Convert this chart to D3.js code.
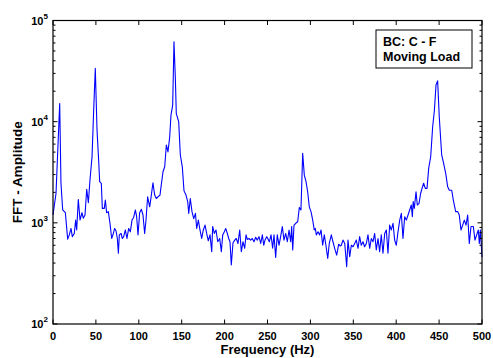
<!DOCTYPE html>
<html><head><meta charset="utf-8">
<script src="https://cdn.jsdelivr.net/npm/d3@7"></script>
<style>body{margin:0;background:#fff}svg{display:block}text{font-family:"Liberation Sans",Arial,sans-serif;font-weight:bold}</style>
</head><body><svg id="c" width="493" height="358"></svg>
<script>
const freq = [0,3.5,7.8,9.3,11.3,14.4,17.1,19,21,22.5,24.8,26.4,27.6,29.5,31.5,33.8,35.3,37.3,39.3,41.2,43.1,45.5,47.4,49.3,51.3,53.2,54.4,56.3,57.5,59.8,61,62.5,64.5,66.4,68.4,70.3,71.9,73.4,75,76.2,77.3,79.3,80.8,82.4,84.3,86.2,88.2,90.1,92.1,94,96,97.5,99.1,101,103,104.9,106.8,108.4,110.3,112.7,114.6,116.5,118.5,120.4,122.4,124.7,126.2,128.2,130.2,132.1,134,136,137.5,139.5,141,142.6,143.7,146.5,148.4,150.7,152.7,155,157,158.2,160,162,164,166,167.5,169.4,171.3,173.3,175.2,177.2,179.1,181,183,185,186.1,188,190,192,194.3,196.2,197.8,199.7,201.3,203.2,204.8,206.3,207.8,209.8,211.8,213.6,215.6,217.6,219.5,221.4,223.4,225,226.5,228.4,230.4,232.3,234.3,236.2,238.1,240.1,242.1,244,245.6,247.1,249.1,250.3,252.1,254.1,256,257.6,259.5,261.4,263.4,265.3,267.3,269.2,271.2,273.1,275.1,277,278.2,279.4,280.9,282.9,285.2,287.1,289,291,292.9,294.9,296.8,298.7,300.7,302.7,304.5,305.7,306.9,308.9,310.8,312.4,314.3,316.2,318.2,320.2,322,324.4,326.3,328.3,330.6,333,334.9,336,338,340,342.3,343.8,345.8,347.7,349.7,351.6,353.5,355.5,357.4,359.3,361.3,363.2,365.2,367.1,369.1,371,373,374.9,376.8,378.8,380.7,382.6,384.6,386.6,388.5,390.4,392.4,394.3,396.3,398.2,400.1,402.1,404.1,406,407.9,409.9,411.8,413.8,415.7,417.6,418.8,419.8,421.1,423.1,424.6,426.6,428.5,430.1,432,433.9,435.9,437.9,440.2,442.5,444.5,446.4,448.3,450.2,453,454.9,457.7,460,461.9,464.7,466.6,469.3,471.7,473.5,475.5,477.5,479.4,481.4,483.3,485.2,487.2,489.9,491.8,493.8,495.7,496.9,498.1,500];
const amplitude = [1200,1950,15100,2460,1340,1260,690,760,880,730,785,1065,850,1700,1065,1260,1110,1195,2150,1580,2650,4500,12900,33600,8300,4150,2550,2460,1390,1390,1680,1260,1290,990,700,785,880,835,700,500,760,785,700,730,850,700,880,815,1065,1130,1340,1150,760,1260,1360,1195,785,1065,1810,1440,1880,2490,1880,1740,1810,1880,2370,3200,3580,5880,5030,7060,11600,14600,61700,26800,12000,10000,4680,3580,2070,1880,1620,1240,1740,1290,1100,1240,880,1065,850,700,850,950,785,665,760,518,920,785,850,650,700,518,760,815,880,785,700,650,383,635,675,700,625,850,518,650,560,760,685,700,675,700,650,720,675,730,625,760,600,675,730,700,650,760,560,760,455,760,600,730,920,675,785,650,850,650,920,540,950,990,1025,1420,1340,4870,2960,2550,2030,1440,1290,1065,850,880,760,815,760,850,600,760,590,445,625,760,650,560,480,615,590,600,675,625,368,675,462,600,580,625,675,560,730,600,650,580,625,760,560,700,650,785,540,700,518,760,500,785,850,500,950,850,990,675,600,815,1065,1240,700,1150,1065,1195,1340,1500,1150,1620,1390,2030,1500,1560,1950,2190,2460,2190,2190,3470,4500,8900,12900,23000,25300,11100,4700,4000,3080,2270,2100,2100,1680,1290,1290,1195,850,950,1065,950,1195,625,920,920,675,760,850,625,850,460];
const xTicks = [0,50,100,150,200,250,300,350,400,450,500];
const yExponents = [2,3,4,5];
const legendLines = ["BC: C - F","Moving Load"];
const xTitle = "Frequency (Hz)";
const yTitle = "FFT - Amplitude";

const L=53,R=482,T=20.5,B=324;
const svg=d3.select("#c");
const x=d3.scaleLinear().domain([0,500]).range([L,R]);
const y=d3.scaleLog().domain([100,1e5]).range([B,T]);

// minor log ticks
const minor=[];
for(let e=2;e<5;e++)for(let m=2;m<=9;m++)minor.push(m*Math.pow(10,e));
const g=svg.append("g");
// data line
svg.append("path").datum(freq.map((f,i)=>[f,amplitude[i]]))
  .attr("fill","none").attr("stroke","#0000ff").attr("stroke-width",1.1)
  .attr("stroke-linejoin","round")
  .attr("d",d3.line().x(d=>x(d[0])).y(d=>y(d[1])));

const ax=svg.append("g").attr("stroke","#000").attr("stroke-width",1);
// x ticks bottom & top
xTicks.forEach(t=>{
  ax.append("line").attr("x1",x(t)).attr("x2",x(t)).attr("y1",B).attr("y2",B-4.5);
  ax.append("line").attr("x1",x(t)).attr("x2",x(t)).attr("y1",T).attr("y2",T+4.5);
});
yExponents.forEach(e=>{
  const v=Math.pow(10,e);
  ax.append("line").attr("x1",L).attr("x2",L+4.5).attr("y1",y(v)).attr("y2",y(v));
  ax.append("line").attr("x1",R).attr("x2",R-4.5).attr("y1",y(v)).attr("y2",y(v));
});
minor.forEach(v=>{
  ax.append("line").attr("x1",L).attr("x2",L+2.5).attr("y1",y(v)).attr("y2",y(v));
  ax.append("line").attr("x1",R).attr("x2",R-2.5).attr("y1",y(v)).attr("y2",y(v));
});
svg.append("rect").attr("x",L).attr("y",T).attr("width",R-L).attr("height",B-T)
  .attr("fill","none").attr("stroke","#000").attr("stroke-width",1.2);

// x tick labels
svg.append("g").selectAll("text").data(xTicks).join("text")
  .attr("x",d=>x(d)).attr("y",340).attr("text-anchor","middle")
  .attr("font-size",11).text(d=>d);
// y tick labels
yExponents.forEach(e=>{
  const t=svg.append("text").attr("x",43.5).attr("y",y(Math.pow(10,e))+4).attr("text-anchor","end").attr("font-size",11).text("10");
  svg.append("text").attr("x",43.5).attr("y",y(Math.pow(10,e))-2).attr("font-size",8).text(e);
});
// titles
svg.append("text").attr("x",(L+R)/2).attr("y",353.5).attr("text-anchor","middle").attr("font-size",13).text(xTitle);
svg.append("text").attr("transform",`translate(22,${(T+B)/2}) rotate(-90)`).attr("text-anchor","middle").attr("font-size",13.5).text(yTitle);

// legend
svg.append("rect").attr("x",376).attr("y",30).attr("width",96).attr("height",38)
  .attr("fill","#fff").attr("stroke","#000").attr("stroke-width",1);
legendLines.forEach((s,i)=>{
  svg.append("text").attr("x",383).attr("y",46+i*15).attr("font-size",12.5).text(s);
});
</script></body></html>
